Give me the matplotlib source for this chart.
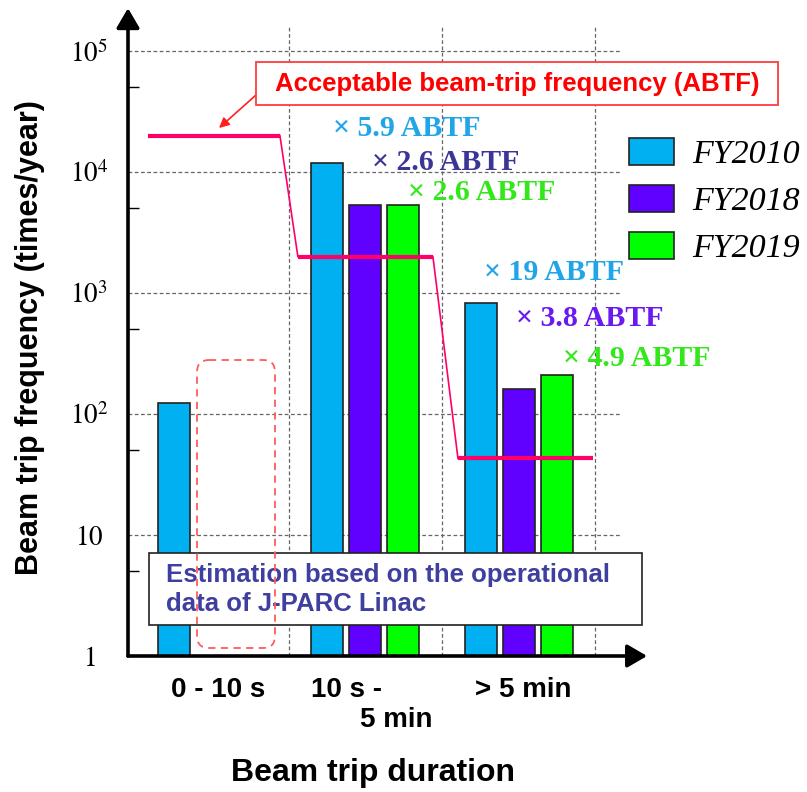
import numpy as np
import matplotlib
matplotlib.use("Agg")
import matplotlib.pyplot as plt
from matplotlib import transforms
from matplotlib.patches import Rectangle, FancyBboxPatch

# data
durations = [["0 - 10 s"], ["10 s -", "5 min"], ["> 5 min"]]
series_names = ["FY2010", "FY2018", "FY2019"]
fy2010 = [123, 11900, 826]
fy2018 = [np.nan, 5300, 162]
fy2019 = [np.nan, 5300, 209]
abtf = [2.0e4, 2.0e3, 43]
ratios_mid = ["5.9", "2.6", "2.6"]     # 10 s - 5 min, per series
ratios_long = ["19", "3.8", "4.9"]     # > 5 min, per series

bar_colors = ["#00B0F0", "#6000FF", "#00FF00"]
ratio_colors_mid = ["#1FA5E8", "#3B3596", "#33E81A"]
ratio_colors_long = ["#1FA5E8", "#6A1AF0", "#33E81A"]
abtf_color = "#FF0066"

plt.rcParams["font.family"] = ["Liberation Sans", "DejaVu Sans"]
plt.rcParams["mathtext.fontset"] = "stix"

W, H = 807, 792
fig = plt.figure(figsize=(W / 100, H / 100), dpi=100)
# pixel coordinates, origin top-left, for the annotations around the plot
pix = transforms.Affine2D().scale(1 / W, -1 / H).translate(0, 1) + fig.transFigure

ax = fig.add_axes([128 / W, 1 - 656 / H, 492 / W, 629 / H])
ax.set_yscale("log")
ax.set_ylim(1, 10 ** (629 / 121))
ax.set_xlim(-0.546, 2.66)

x = np.arange(len(durations))
offsets = [-0.248, 0.0, 0.248]
for vals, off, col, name in zip([fy2010, fy2018, fy2019], offsets, bar_colors, series_names):
    ax.bar(x + off, vals, width=0.21, color=col, edgecolor="#222222", linewidth=1.2,
           label=name, zorder=3)

# acceptable beam-trip frequency steps
seg_start = [-0.416, 0.561, 1.604]
seg_end = [0.444, 1.441, 2.483]
ax.hlines(abtf, seg_start, seg_end, color=abtf_color, lw=3, zorder=4)
for i in range(len(abtf) - 1):
    ax.plot([seg_end[i], seg_start[i + 1]], [abtf[i], abtf[i + 1]],
            color=abtf_color, lw=1.2, zorder=4)

# grid
for d in range(1, 6):
    ax.axhline(10 ** d, color="#666666", lw=0.9, ls=(0, (3, 2)), zorder=1)
for b in [0.5, 1.5, 2.5]:
    ax.axvline(b, color="#666666", lw=0.9, ls=(0, (3, 2)), zorder=1)

# axes as arrows
for s in ax.spines.values():
    s.set_visible(False)
arrow = dict(arrowstyle="-|>,head_length=0.6,head_width=0.35", lw=2.6, color="black",
             shrinkA=0, shrinkB=0, mutation_scale=20)
ax.annotate("", xy=(0, 1.03), xytext=(0, 0), xycoords="axes fraction", arrowprops=arrow,
            annotation_clip=False)
ax.annotate("", xy=(1.055, 0), xytext=(0, 0), xycoords="axes fraction", arrowprops=arrow,
            annotation_clip=False)

# y ticks
ax.set_yticks([10 ** d for d in range(6)])
ax.set_yticklabels([r"$1$", r"$10$"] + [r"$10^{%d}$" % d for d in range(2, 6)])
ax.set_yticks([5 * 10 ** d for d in range(5)], minor=True)
ax.yaxis.set_minor_formatter(plt.NullFormatter())
ax.tick_params(axis="y", which="major", length=0, pad=28, labelsize=19.5)
ax.tick_params(axis="y", which="minor", direction="in", length=8, width=1)
for lab in ax.get_yticklabels():
    lab.set_horizontalalignment("center")
ax.set_xticks([])

# category labels
label_shift = [[0.04], [-0.12, 0.2], [0.03]]
label_rows = [690, 720]
xdata_ypix = transforms.blended_transform_factory(ax.transData, pix)
for i, lines in enumerate(durations):
    for j, line in enumerate(lines):
        fig.text(i + label_shift[i][j], label_rows[j], line, transform=xdata_ypix,
                 ha="center", va="center", fontsize=20, fontweight="bold")

fig.text(30 / W, 1 - 338 / H, "Beam trip frequency (times/year)", rotation=90,
         ha="center", va="center", fontsize=22, fontweight="bold")
fig.text(373 / W, 1 - 773 / H, "Beam trip duration", ha="center", va="center",
         fontsize=23, fontweight="bold")

# ratio annotations
pos_mid = [(333, 128), (372, 162), (408, 192)]
pos_long = [(484, 272), (516, 318), (563, 359)]
for labels, poss, cols in [(ratios_mid, pos_mid, ratio_colors_mid),
                           (ratios_long, pos_long, ratio_colors_long)]:
    for lab, (px, py), c in zip(labels, poss, cols):
        fig.text(px, py, "\u00d7 " + lab + " ABTF", transform=pix, ha="left", va="center",
                 color=c, fontsize=21.5, fontweight="bold",
                 family=["Liberation Serif", "DejaVu Serif"])

# ABTF callout
fig.add_artist(Rectangle((256, 62), 522, 43, transform=pix, fc="white", ec="#FF3B3B",
                         lw=1.3, zorder=2))
fig.text(517, 84, "Acceptable beam-trip frequency (ABTF)", transform=pix, ha="center",
         va="center", color="#FF0000", fontsize=18.5, fontweight="bold", zorder=3)
ax.annotate("", xy=(219, 128), xycoords=pix, xytext=(256, 95), textcoords=pix,
            arrowprops=dict(arrowstyle="-|>", color="#FF2020", lw=1.2, mutation_scale=15,
                            shrinkA=0, shrinkB=0), annotation_clip=False)

# estimation note
fig.add_artist(Rectangle((149, 553), 493, 72, transform=pix, fc="white", ec="#222222",
                         lw=1.2, zorder=2))
fig.text(166, 575, "Estimation based on the operational", transform=pix, ha="left",
         va="center", color="#3F3F9F", fontsize=18.5, fontweight="bold", zorder=3)
fig.text(166, 604, "data of J-PARC Linac", transform=pix, ha="left",
         va="center", color="#3F3F9F", fontsize=18.5, fontweight="bold", zorder=3)

# dashed rounded region in the first group
fig.add_artist(FancyBboxPatch((197, 360), 78, 288, transform=pix,
                              boxstyle="round,pad=0,rounding_size=12", fc="none",
                              ec="#FF5C5C", lw=1.3, ls=(0, (4, 3)), zorder=4))

# legend
ax.legend(loc="upper left", bbox_to_anchor=(629 / W, 1 - 138 / H), bbox_transform=fig.transFigure,
          frameon=False, borderpad=0, borderaxespad=0, handlelength=1.32, handleheight=0.84,
          handletextpad=0.55, labelspacing=0.43,
          prop=dict(family="Liberation Serif", style="italic", size=24.5))

fig.savefig("out.png", dpi=100)
